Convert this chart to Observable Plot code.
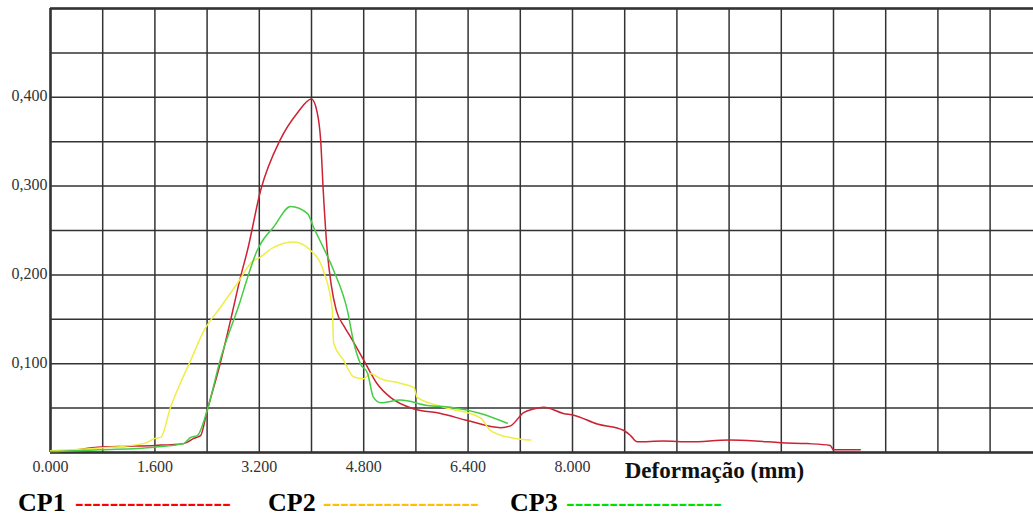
<!DOCTYPE html>
<html>
<head>
<meta charset="utf-8">
<script src="https://cdn.jsdelivr.net/npm/d3@7"></script>
<script src="https://cdn.jsdelivr.net/npm/@observablehq/plot@0.6"></script>
<style>
  html, body { margin: 0; padding: 0; background: #fff; }
  body { position: relative; width: 1033px; height: 515px; overflow: hidden; font-family: "Liberation Serif", serif; }
  #legend span { position: absolute; top: 492px; font: bold 26px/22px "Liberation Serif", serif; white-space: pre; }
</style>
</head>
<body>
<div id="chart"></div>
<div id="legend"></div>
<script>
// ---- data ----
const cp1X = [0, 0.3, 0.6, 0.72, 1.2, 1.6, 2.04, 2.2, 2.3, 2.4, 2.6, 2.76, 2.91, 3.02, 3.22, 3.52, 3.78, 4.0, 4.09, 4.14, 4.18, 4.24, 4.30, 4.38, 4.5, 4.6, 4.8, 5.0, 5.21, 5.57, 5.98, 6.39, 6.9, 7.05, 7.25, 7.4, 7.56, 7.86, 8.02, 8.38, 8.78, 8.89, 8.99, 9.39, 9.8, 10.4, 10.8, 11.19, 11.6, 11.95, 12.0, 12.41];
const cp1Y = [0.001, 0.002, 0.005, 0.006, 0.007, 0.008, 0.010, 0.016, 0.019, 0.047, 0.100, 0.149, 0.197, 0.228, 0.295, 0.352, 0.382, 0.398, 0.382, 0.352, 0.295, 0.228, 0.190, 0.160, 0.142, 0.130, 0.104, 0.078, 0.062, 0.049, 0.044, 0.036, 0.028, 0.030, 0.045, 0.049, 0.051, 0.044, 0.042, 0.032, 0.025, 0.019, 0.012, 0.013, 0.012, 0.014, 0.013, 0.011, 0.010, 0.008, 0.003, 0.003];

const cp2X = [0, 0.77, 1.43, 1.61, 1.69, 1.84, 1.99, 2.15, 2.35, 2.6, 2.86, 3.11, 3.17, 3.42, 3.73, 3.98, 4.19, 4.32, 4.34, 4.49, 4.65, 4.8, 4.9, 5.06, 5.36, 5.57, 5.62, 6.03, 6.59, 6.74, 7.1, 7.36];
const cp2Y = [0.002, 0.005, 0.010, 0.016, 0.017, 0.051, 0.078, 0.104, 0.137, 0.163, 0.190, 0.216, 0.218, 0.231, 0.237, 0.228, 0.203, 0.160, 0.123, 0.104, 0.085, 0.083, 0.089, 0.083, 0.078, 0.073, 0.062, 0.051, 0.039, 0.025, 0.016, 0.014];

const cp3X = [0, 0.77, 1.6, 2.04, 2.15, 2.25, 2.4, 2.6, 2.91, 3.02, 3.17, 3.22, 3.42, 3.68, 3.94, 4.03, 4.18, 4.34, 4.55, 4.65, 4.75, 4.86, 4.95, 5.06, 5.36, 5.78, 6.13, 6.59, 7.0];
const cp3Y = [0.001, 0.003, 0.006, 0.010, 0.017, 0.019, 0.047, 0.104, 0.171, 0.197, 0.228, 0.235, 0.254, 0.277, 0.269, 0.254, 0.231, 0.205, 0.160, 0.123, 0.100, 0.089, 0.062, 0.056, 0.059, 0.053, 0.051, 0.044, 0.033];

const xTickValues = [0, 1.6, 3.2, 4.8, 6.4, 8.0];
const xTickLabels = ["0.000", "1.600", "3.200", "4.800", "6.400", "8.000"];
const yTickValues = [0.1, 0.2, 0.3, 0.4];
const yTickLabels = ["0,100", "0,200", "0,300", "0,400"];
const xGrid = d3.range(0, 19).map(i => +(i * 0.8).toFixed(1));
const yGrid = d3.range(0, 11).map(i => +(i * 0.05).toFixed(2));
const xTitle = "Deformação (mm)";

const seriesNames = ["CP1", "CP2", "CP3"];
const lineColors = ["#cc2233", "#eeee44", "#44cc44"];
const legendColors = ["#ff0000", "#ffc000", "#00e000"];

// ---- build table ----
const rows = [];
[[cp1X, cp1Y], [cp2X, cp2Y], [cp3X, cp3Y]].forEach(([xs, ys], k) => {
  xs.forEach((x, i) => rows.push({ series: seriesNames[k], x, y: ys[i] }));
});

const W = 1033, mL = 50;
const pxPerMm = 65.25;
const xMax = (W - mL) / pxPerMm;

const serif = "Liberation Serif, Times New Roman, serif";
const chart = Plot.plot({
  width: W,
  height: 490,
  marginLeft: mL,
  marginRight: 0,
  marginTop: 8,
  marginBottom: 38,
  style: { background: "#fff", fontFamily: serif },
  x: { domain: [0, xMax], axis: null },
  y: { domain: [0, 0.5], axis: null },
  color: { domain: seriesNames, range: lineColors },
  marks: [
    Plot.ruleX(xGrid, { stroke: "#333", strokeWidth: 1.5 }),
    Plot.ruleY(yGrid, { stroke: "#333", strokeWidth: 1.5 }),
    Plot.ruleY([0, 0.5], { stroke: "#333", strokeWidth: 2.5 }),
    Plot.ruleX([0], { stroke: "#333", strokeWidth: 2.5 }),
    Plot.line(rows, { x: "x", y: "y", z: "series", stroke: "series", strokeWidth: 1.5, curve: "monotone-x" }),
    Plot.text(xTickValues, { x: d => d, y: 0, text: (d, i) => xTickLabels[i], dy: 14, fontSize: 16, fill: "#333", fontFamily: serif }),
    Plot.text(yTickValues, { x: 0, y: d => d, text: (d, i) => yTickLabels[i], textAnchor: "end", dx: -3, dy: -1, fontSize: 16, fill: "#333", fontFamily: serif }),
    Plot.text([xTitle], { x: 8.8, y: 0, text: d => d, textAnchor: "start", dy: 18, fontSize: 23, fontWeight: "bold", fill: "#111", fontFamily: serif })
  ]
});
document.getElementById("chart").appendChild(chart);

// ---- legend below the svg ----
const legend = document.getElementById("legend");
const legendPos = [[18, 75], [268, 323], [510, 566]];
seriesNames.forEach((name, k) => {
  const a = document.createElement("span");
  a.textContent = name;
  a.style.left = legendPos[k][0] + "px";
  a.style.color = "#000";
  legend.appendChild(a);
  const b = document.createElement("span");
  b.textContent = "-".repeat(18);
  b.style.left = legendPos[k][1] + "px";
  b.style.color = legendColors[k];
  legend.appendChild(b);
});
</script>
</body>
</html>
